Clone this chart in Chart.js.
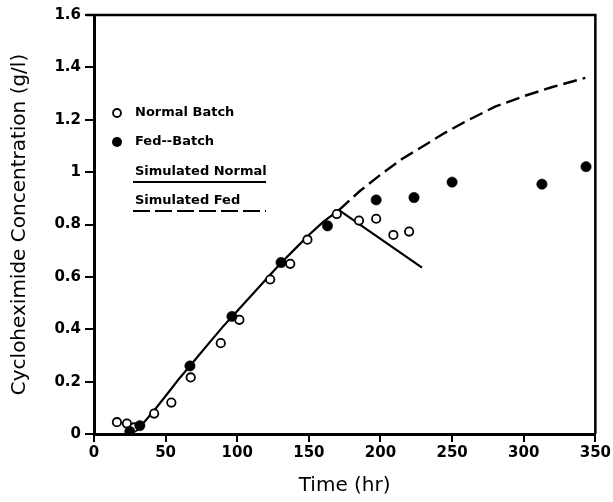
<!DOCTYPE html>
<html>
<head>
<meta charset="utf-8">
<script src="https://cdn.jsdelivr.net/npm/chart.js@4/dist/chart.umd.min.js"></script>
<style>
html,body{margin:0;padding:0;background:#fff;}
#wrap{width:613px;height:502px;position:relative;}
</style>
</head>
<body>
<div id="wrap"><canvas id="c" width="613" height="502"></canvas></div>
<script>
// ---- data ----
const normalBatchX = [16, 23, 28, 42, 54, 67.5, 88.5, 101.5, 123, 137, 149, 169.5, 185, 197, 209, 220];
const normalBatchY = [0.045, 0.04, 0.025, 0.078, 0.12, 0.216, 0.347, 0.436, 0.59, 0.65, 0.742, 0.84, 0.815, 0.822, 0.76, 0.773];
const fedBatchX = [25, 32, 67, 96.3, 130.6, 163, 197, 223.4, 250, 312.7, 343.5];
const fedBatchY = [0.01, 0.032, 0.26, 0.449, 0.655, 0.795, 0.894, 0.903, 0.962, 0.954, 1.021];
const simNormalX = [22, 25, 30, 35, 42, 50, 60, 70, 80, 90, 100, 110, 120, 130, 140, 150, 160, 171, 229];
const simNormalY = [0, 0.006, 0.022, 0.045, 0.09, 0.145, 0.215, 0.28, 0.345, 0.41, 0.47, 0.53, 0.59, 0.65, 0.705, 0.76, 0.81, 0.855, 0.635];
const simFedX = [171, 185, 200, 215, 230, 245, 260, 280, 300, 320, 343];
const simFedY = [0.855, 0.925, 0.99, 1.05, 1.1, 1.15, 1.195, 1.25, 1.29, 1.325, 1.36];
const xTicks = [0, 50, 100, 150, 200, 250, 300, 350];
const yTicks = [0, 0.2, 0.4, 0.6, 0.8, 1, 1.2, 1.4, 1.6];
const legendLabels = ["Normal Batch", "Fed--Batch", "Simulated Normal", "Simulated Fed"];
const xTitle = "Time (hr)";
const yTitle = "Cycloheximide Concentration (g/l)";

const zip = (xs, ys) => xs.map((x, i) => ({x: x, y: ys[i]}));

const legendPlugin = {
  id: 'customLegend',
  afterDraw(chart) {
    const ctx = chart.ctx;
    ctx.save();
    ctx.fillStyle = '#000';
    ctx.strokeStyle = '#000';
    ctx.font = 'bold 13px "DejaVu Sans"';
    ctx.textBaseline = 'middle';
    ctx.textAlign = 'left';
    const tx = 135;
    ctx.lineWidth = 1.8;
    ctx.beginPath(); ctx.arc(117, 113, 4, 0, Math.PI * 2); ctx.stroke();
    ctx.fillText(legendLabels[0], tx, 113);
    ctx.beginPath(); ctx.arc(117, 142, 5, 0, Math.PI * 2); ctx.fill();
    ctx.fillText(legendLabels[1], tx, 142);
    ctx.fillText(legendLabels[2], tx, 172);
    ctx.fillText(legendLabels[3], tx, 201);
    ctx.lineWidth = 2;
    ctx.beginPath(); ctx.moveTo(133, 182); ctx.lineTo(266, 182); ctx.stroke();
    ctx.setLineDash([17, 5]);
    ctx.beginPath(); ctx.moveTo(133, 211); ctx.lineTo(266, 211); ctx.stroke();
    ctx.setLineDash([]);
    const a = chart.chartArea;
    ctx.lineWidth = 2.5;
    ctx.beginPath();
    ctx.moveTo(a.left - 8, a.top); ctx.lineTo(a.right, a.top); ctx.lineTo(a.right, a.bottom);
    ctx.stroke();
    ctx.restore();
  }
};

new Chart(document.getElementById('c'), {
  type: 'scatter',
  data: {
    datasets: [
      { label: legendLabels[0], data: zip(normalBatchX, normalBatchY), pointStyle: 'circle', pointRadius: 4.2, borderColor: '#000', backgroundColor: '#fff', borderWidth: 1.8, showLine: false, order: 1 },
      { label: legendLabels[1], data: zip(fedBatchX, fedBatchY), pointStyle: 'circle', pointRadius: 5.2, borderColor: '#000', backgroundColor: '#000', borderWidth: 0.5, showLine: false, order: 0 },
      { label: legendLabels[2], data: zip(simNormalX, simNormalY), showLine: true, pointRadius: 0, borderColor: '#000', borderWidth: 2.2, tension: 0, fill: false, order: 2 },
      { label: legendLabels[3], data: zip(simFedX, simFedY), showLine: true, pointRadius: 0, borderColor: '#000', borderWidth: 2.4, borderDash: [14, 6], tension: 0, fill: false, order: 2 }
    ]
  },
  options: {
    responsive: false,
    animation: false,
    layout: { padding: { top: 15, right: 16, left: 0, bottom: 0 } },
    plugins: { legend: { display: false }, tooltip: { enabled: false } },
    scales: {
      x: {
        type: 'linear', min: 0, max: 350,
        afterBuildTicks(s) { s.ticks = xTicks.map(v => ({value: v})); },
        afterFit(s) { s.height = 68; },
        ticks: { color: '#000', font: { family: '"DejaVu Sans"', size: 15, weight: 'bold' }, padding: 2, maxRotation: 0 },
        grid: { drawOnChartArea: false, drawTicks: true, tickLength: 8, color: '#000', lineWidth: 2 },
        border: { display: true, color: '#000', width: 3 },
        title: { display: true, text: xTitle, color: '#000', font: { family: '"DejaVu Sans"', size: 20 }, padding: { top: 5 } }
      },
      y: {
        type: 'linear', min: 0, max: 1.6,
        afterBuildTicks(s) { s.ticks = yTicks.map(v => ({value: v})); },
        afterFit(s) { s.width = 94; },
        ticks: { color: '#000', font: { family: '"DejaVu Sans"', size: 15, weight: 'bold' }, padding: 4, callback: v => String(Number(v.toFixed(1))) },
        grid: { drawOnChartArea: false, drawTicks: true, tickLength: 9, color: '#000', lineWidth: 2 },
        border: { display: true, color: '#000', width: 3 },
        title: { display: true, text: yTitle, color: '#000', font: { family: '"DejaVu Sans"', size: 20 }, padding: { top: 8, bottom: 6 } }
      }
    }
  },
  plugins: [legendPlugin]
});
</script>
</body>
</html>
